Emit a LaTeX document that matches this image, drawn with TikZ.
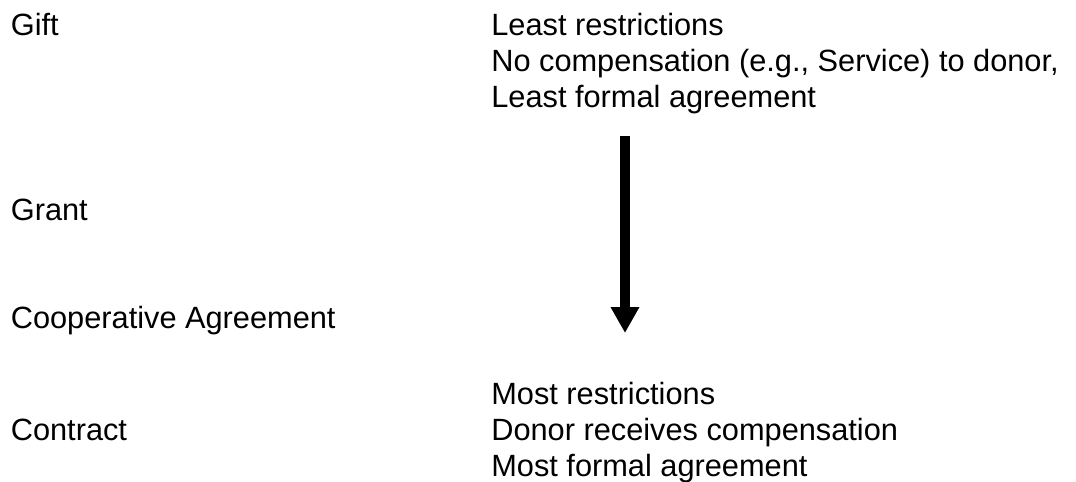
\documentclass[tikz,border=0pt]{standalone}
\usepackage{fontspec}
\setmainfont{Liberation Sans}
\usetikzlibrary{arrows.meta, positioning}
\definecolor{textColor}{RGB}{0, 0, 0}
\definecolor{lineColor}{RGB}{0, 0, 0}
\tikzset{
    font=\fontsize{17.5}{20.5}\selectfont,
    % --- labels ---
    typeLabel/.style={
        anchor=base west, inner sep=0pt,
        text=textColor
    },
    noteLabel/.style={
        typeLabel, align=left
    },
    %
    % --- arrow ---
    flowArrow/.style={
        draw=lineColor, line width=0.2cm,
        -{Triangle[width=0.54cm, length=0.52cm]}
    }
}

\begin{document}
\begin{tikzpicture}[x=0.02cm, y=0.02cm]

	\useasboundingbox (0,0) rectangle (1076,-482);

	% =========================================
	% 1. agreement types
	% =========================================

	\node [typeLabel] (gift) at (10.5,-36) {Gift};
	\node [typeLabel] (grant) at (10.5,-221) {Grant};
	\node [typeLabel] (coop) at (10.5,-329) {Cooperative Agreement};
	\node [typeLabel] (contract) at (10.5,-441) {Contract};

	% =========================================
	% 2. notes (base = last line)
	% =========================================

	\node [noteLabel] (least) at (491,-107.5) {
		Least restrictions\\
		No compensation (e.g., Service) to donor,\\
		Least formal agreement
	};

	\node [noteLabel] (most) at (491,-477) {
		Most restrictions\\
		Donor receives compensation\\
		Most formal agreement
	};

	% =========================================
	% 3. arrow
	% =========================================

	\coordinate (arrowTop) at (625,-136);
	\coordinate (arrowTip) at (625,-333);
	\draw [flowArrow] (arrowTop) -- (arrowTip);

\end{tikzpicture}
\end{document}
